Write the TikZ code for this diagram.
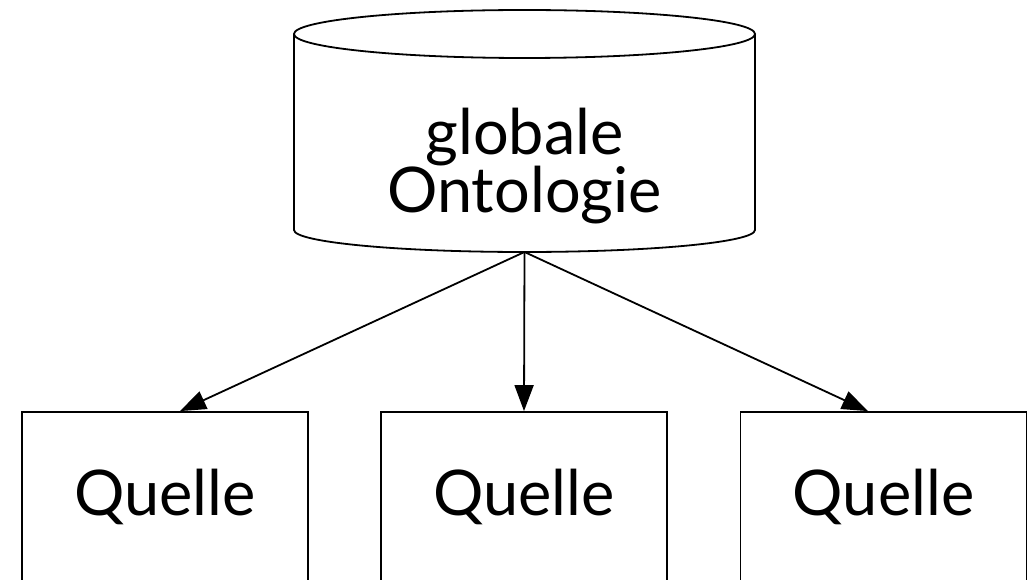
\documentclass[tikz,border=0pt]{standalone}
\usepackage{fontspec}
\setmainfont{Lato}
\usetikzlibrary{arrows.meta,calc}
\begin{document}
\begin{tikzpicture}[x=1pt,y=-1pt,
  line width=1.8pt,
  bigtext/.style={font=\fontsize{63}{58}\selectfont, inner sep=0pt},
  srcbox/.style={draw, line width=1.8pt, minimum width=286pt, minimum height=170pt, inner sep=0pt, bigtext},
  arr/.style={-{Triangle[length=26pt,width=19pt]}, line width=1.8pt}]
  \useasboundingbox (0,0) rectangle (1034,580);
  % database cylinder
  \draw[fill=white] (294,34) -- (294,230) arc[start angle=180, end angle=0, x radius=230.5, y radius=22] -- (755,34);
  \draw (524.5,34) ellipse[x radius=230.5, y radius=24];
  \coordinate (src) at (524.5,252);
  \node[bigtext, align=center] (onto) at (524.5,166) {globale\\Ontologie};
  % sources
  \node[srcbox] (q1) at (165,497) {\raisebox{-3pt}{Quelle}};
  \node[srcbox] (q2) at (524,497) {\raisebox{-3pt}{Quelle}};
  \node[srcbox] (q3) at (883.5,497) {\raisebox{-3pt}{Quelle}};
  % arrows
  \draw[arr] (src) -- ($(q1.north west)!0.552!(q1.north east)$);
  \draw[arr] (src) -- (q2.north);
  \draw[arr] (src) -- ($(q3.north west)!0.446!(q3.north east)$);
\end{tikzpicture}
\end{document}
